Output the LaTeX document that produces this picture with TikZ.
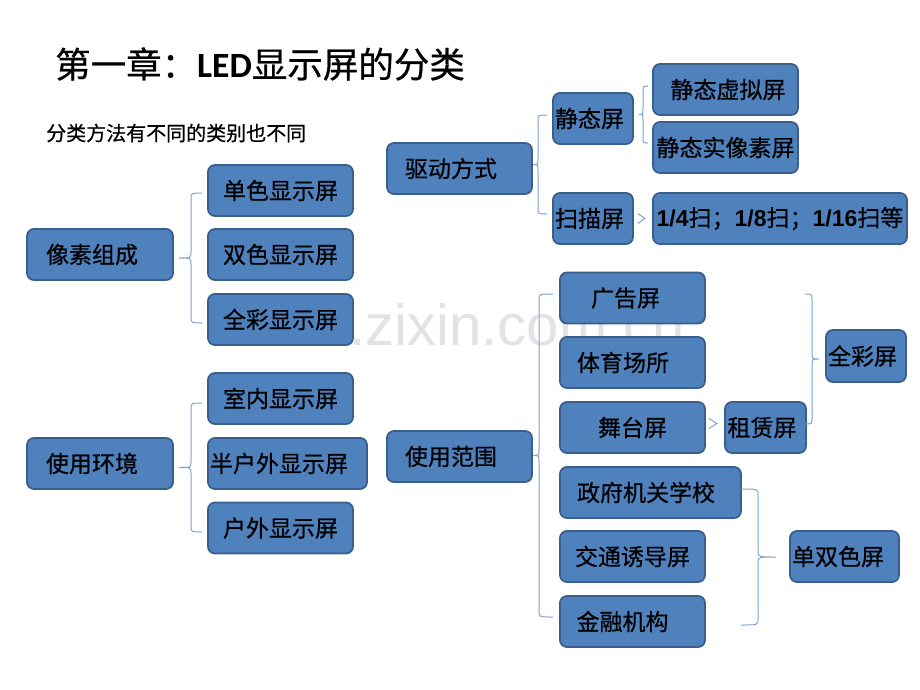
\documentclass[tikz,border=0pt]{standalone}
\usepackage{fontspec}
\setmainfont{Noto Sans CJK SC}[FakeBold=0.6]
\newfontfamily\arialf{Liberation Sans}
\newfontfamily\calf{Carlito}
\usetikzlibrary{calc}
\definecolor{boxfill}{HTML}{4F81BD}
\definecolor{boxline}{HTML}{3A5F8C}
\definecolor{brcol}{HTML}{7FA3D3}
\definecolor{wmark}{HTML}{E3E3E3}
\tikzset{
  box/.style={draw=boxline, fill=boxfill, line width=1.8pt, rounded corners=7pt,
    minimum height=51pt, inner sep=0pt, text=black,
    font=\fontsize{23}{23}\selectfont},
  brc/.style={draw=brcol, line width=1pt},
  chv/.style={draw=brcol, line width=1pt},
}
\newcommand\bracepath[5]{%
  \draw[brc] let \p1=(#1), \p2=(#2), \p3=($(#1)!.5!(#2)$) in
    (#3,\y1) .. controls (#4,\y1) .. (#4,\y1-6pt) -- (#4,\y3+6pt)
    .. controls (#4,\y3) .. (#5,\y3) .. controls (#4,\y3) .. (#4,\y3-6pt)
    -- (#4,\y2+6pt) .. controls (#4,\y2) .. (#3,\y2);}
\begin{document}
\begin{tikzpicture}[x=1pt,y=-1pt]
\useasboundingbox (0,0) rectangle (920,690);
\fill[white] (0,0) rectangle (920,690);

% watermark
\node[anchor=base west, inner sep=0pt, text=wmark, font=\arialf\fontsize{58}{58}\selectfont] (wm) at (227,345) {www.zixin.com.cn};

% titles
\node[anchor=west, inner sep=0pt] (title) at (55,64) {\fontsize{35.5}{35.5}\selectfont 第一章：{\calf\bfseries LED}显示屏的分类};
\node[anchor=west, inner sep=0pt] (sub) at (46,133) {\fontsize{20}{20}\selectfont 分类方法有不同的类别也不同};

% left column
\node[box, minimum width=146pt] (pxzc) at (100,254.5) {像素组成\kern16pt};
\node[box, minimum width=145pt] (dsxsp) at (280.5,190.5) {单色显示屏};
\node[box, minimum width=145pt] (ssxsp) at (280.5,254.5) {双色显示屏};
\node[box, minimum width=145pt] (qcxsp) at (280.5,319.5) {全彩显示屏};

\node[box, minimum width=146pt] (syhj) at (100,463.5) {使用环境\kern16pt};
\node[box, minimum width=145pt] (snxsp) at (280.5,398.5) {室内显示屏};
\node[box, minimum width=159pt] (bhwxsp) at (287.5,463.5) {半户外显示屏\kern17pt};
\node[box, minimum width=145pt] (hwxsp) at (280.5,528) {户外显示屏};

% drive
\node[box, minimum width=145pt] (qdfs) at (459.5,168.5) {驱动方式\kern17pt};
\node[box, minimum width=80pt] (jtp) at (593,118.5) {静态屏\kern7pt};
\node[box, minimum width=145pt] (jtxnp) at (725.5,89.5) {\kern5pt静态虚拟屏};
\node[box, minimum width=145pt] (jtsxsp) at (725.5,147.5) {静态实像素屏};
\node[box, minimum width=80pt] (smp) at (593,218.5) {扫描屏\kern7pt};
\node[box, minimum width=254pt] (sml) at (780,218.5) {{\arialf\bfseries 1/4}扫；{\arialf\bfseries 1/8}扫；{\arialf\bfseries 1/16}扫等};

% usage range
\node[box, minimum width=145pt] (syfw) at (459.5,456.5) {使用范围\kern17pt};
\node[box, minimum width=145pt] (ggp) at (632.5,298) {广告屏\kern14pt};
\node[box, minimum width=145pt] (tycs) at (632.5,362.5) {体育场所\kern19pt};
\node[box, minimum width=145pt] (wtp) at (632.5,427.5) {舞台屏};
\node[box, minimum width=81pt] (zlp) at (765.5,427.5) {租赁屏\kern7pt};
\node[box, minimum width=80pt, minimum height=52pt] (qcp) at (866,356) {全彩屏\kern7pt};
\node[box, minimum width=181pt] (zfjg) at (650.5,492.5) {政府机关学校\kern9pt};
\node[box, minimum width=145pt] (jtydp) at (632.5,556.5) {交通诱导屏};
\node[box, minimum width=145pt] (jrjg) at (632.5,621.5) {金融机构\kern20pt};
\node[box, minimum width=109pt] (sscp) at (844.5,556.5) {单双色屏\kern13pt};

% brace end coordinates
\coordinate (b1t) at ($(dsxsp.west)+(0,2.5)$);
\coordinate (b1b) at ($(qcxsp.west)+(0,3.5)$);
\coordinate (b2t) at ($(snxsp.west)+(0,4.5)$);
\coordinate (b2b) at ($(hwxsp.west)+(0,4)$);
\coordinate (b3t) at ($(jtp.west)+(0,-3.5)$);
\coordinate (b3b) at ($(smp.west)+(0,-4.5)$);
\coordinate (b4t) at ($(jtxnp.west)+(0,-3.5)$);
\coordinate (b4b) at ($(jtsxsp.west)+(0,-4.5)$);
\coordinate (b5t) at ($(ggp.west)+(0,-4)$);
\coordinate (b5b) at ($(jrjg.west)+(0,-4.5)$);
\coordinate (b6t) at ($(ggp.east)+(0,-4)$);
\coordinate (b6b) at ($(zlp.east)+(0,-3.5)$);
\coordinate (b7t) at ($(zfjg.east)+(0,-3.5)$);
\coordinate (b7b) at ($(jrjg.east)+(0,3.5)$);

\bracepath{b1t}{b1b}{202pt}{191pt}{179pt}
\bracepath{b2t}{b2b}{202pt}{191pt}{179pt}
\bracepath{b3t}{b3b}{547pt}{538pt}{533pt}
\bracepath{b4t}{b4b}{648pt}{643pt}{639pt}
\bracepath{b5t}{b5b}{553pt}{539pt}{533pt}
\bracepath{b6t}{b6b}{805pt}{812pt}{819pt}
\bracepath{b7t}{b7b}{741pt}{758pt}{776pt}

% chevrons
\draw[chv] ($(smp.east)+(4,-5)$) -- ($(smp.east)+(11,0)$) -- ($(smp.east)+(4,5)$);
\draw[chv] ($(wtp.east)+(3,-9)$) -- ($(wtp.east)+(11,-4)$) -- ($(wtp.east)+(3,1)$);
\end{tikzpicture}
\end{document}
